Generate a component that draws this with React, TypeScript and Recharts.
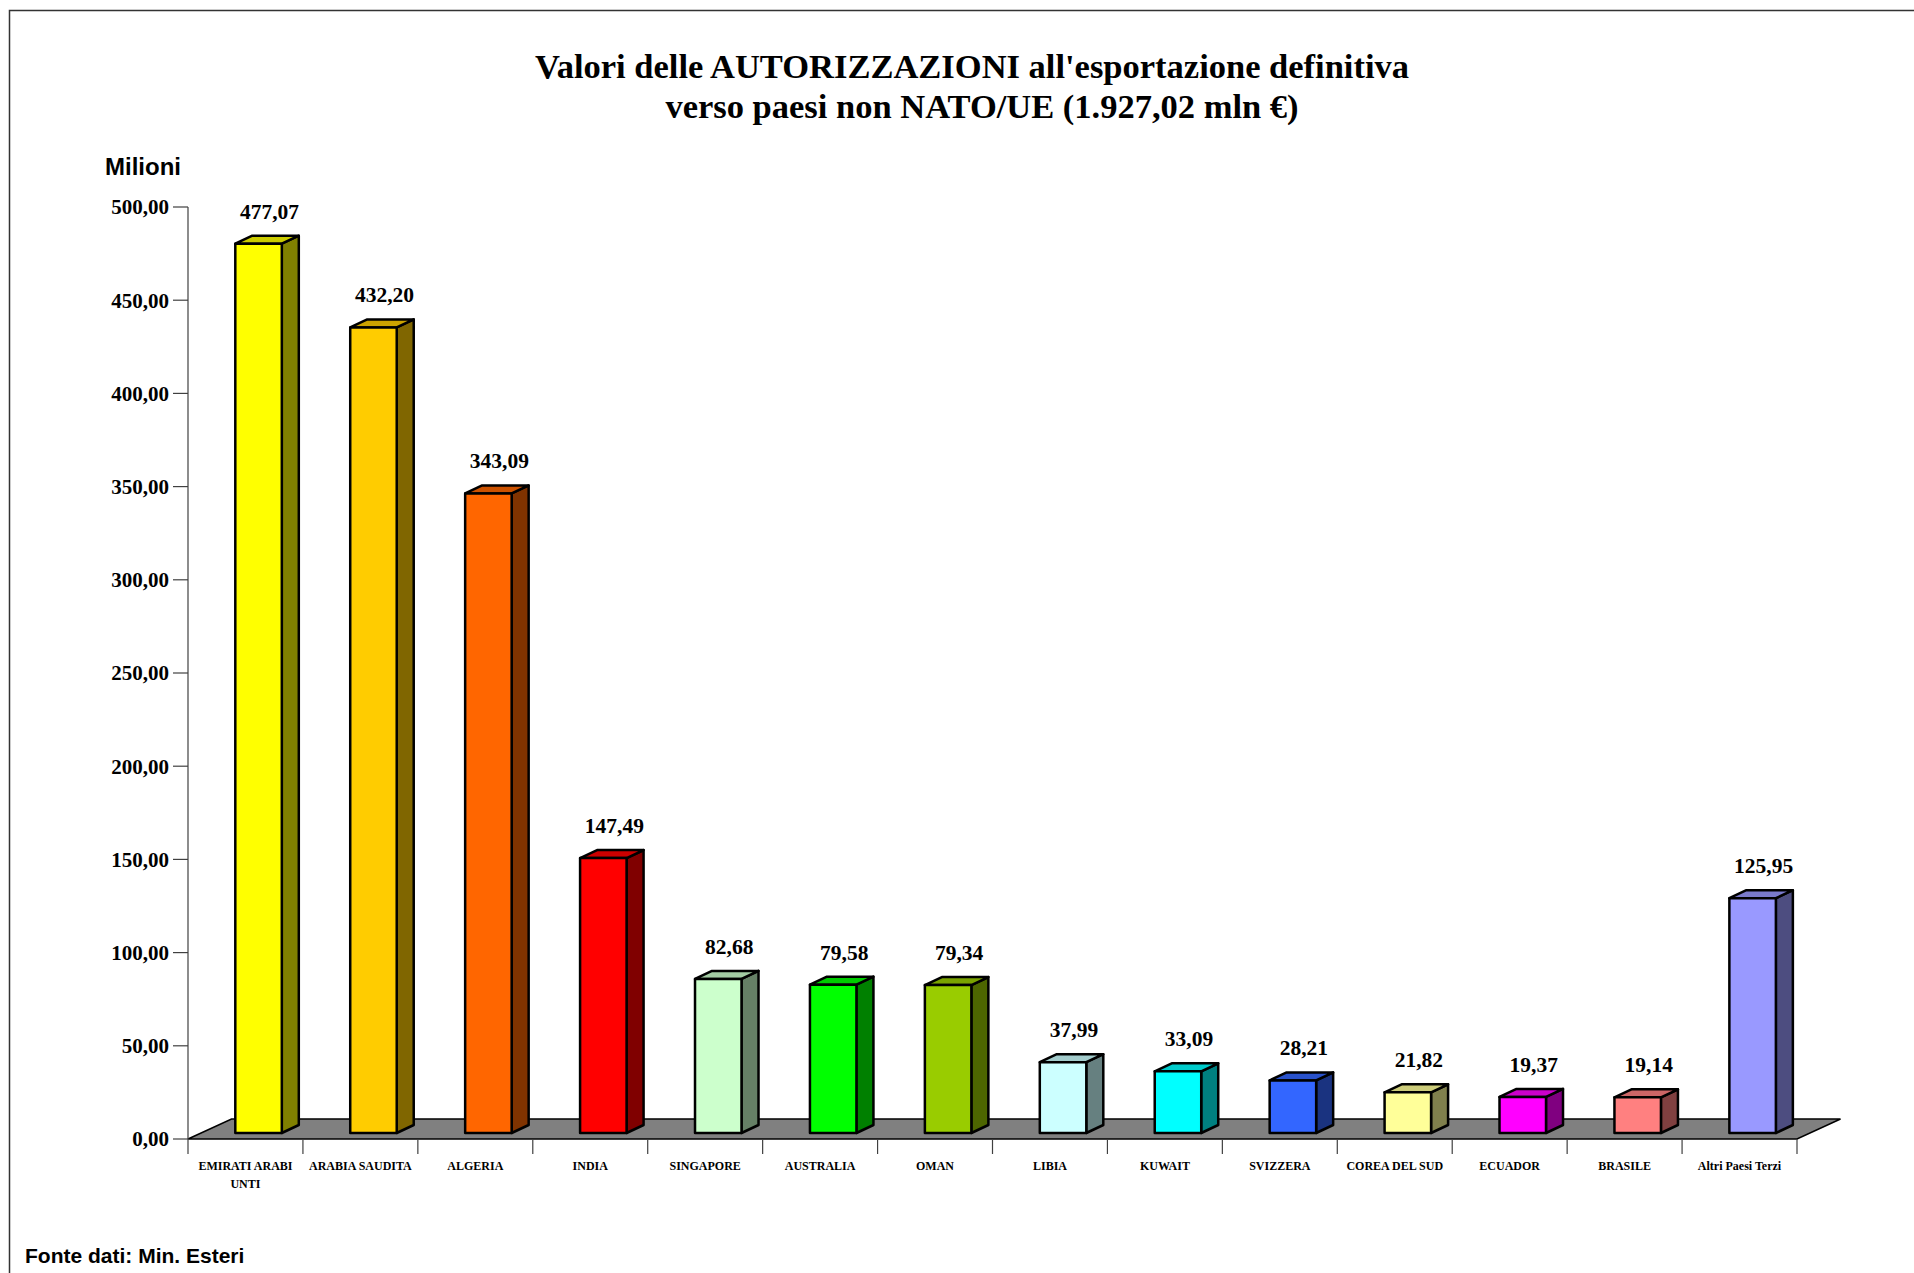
import { BarChart, Bar, XAxis, YAxis, ReferenceArea, LabelList } from 'recharts';

const categories = [
  'EMIRATI ARABI UNTI',
  'ARABIA SAUDITA',
  'ALGERIA',
  'INDIA',
  'SINGAPORE',
  'AUSTRALIA',
  'OMAN',
  'LIBIA',
  'KUWAIT',
  'SVIZZERA',
  'COREA DEL SUD',
  'ECUADOR',
  'BRASILE',
  'Altri Paesi Terzi',
];

const values = [477.07, 432.2, 343.09, 147.49, 82.68, 79.58, 79.34, 37.99, 33.09, 28.21, 21.82, 19.37, 19.14, 125.95];

const yTicks = [0, 50, 100, 150, 200, 250, 300, 350, 400, 450, 500];

const titleLines = [
  "Valori delle AUTORIZZAZIONI all'esportazione definitiva",
  'verso paesi non NATO/UE (1.927,02 mln €)',
];

// front face colours, side and top are darker versions
const palette = [
  '#FFFF00', '#FFCC00', '#FF6600', '#FF0000', '#CCFFCC', '#00FF00', '#99CC00',
  '#CCFFFF', '#00FFFF', '#3366FF', '#FFFF99', '#FF00FF', '#FF8080', '#9999FF',
];

const SERIF = '"Liberation Serif", "Times New Roman", serif';
const SANS = '"Liberation Sans", Arial, sans-serif';

const W = 1914;
const H = 1273;
const MARGIN = { top: 207, right: 117, bottom: 74, left: 0 };

// 3d geometry
const SHIFT_X = 13.3;
const SHIFT_Y = 6;
const DEPTH_X = 17;
const DEPTH_Y = 8;
const FLOOR_X = 43.5;
const FLOOR_Y = 20;

const data = categories.map((name, i) => ({ name, value: values[i] }));

const fmt = (v: number) => v.toFixed(2).replace('.', ',');

function shade(hex: string, f: number) {
  const n = parseInt(hex.slice(1), 16);
  const r = Math.round(((n >> 16) & 255) * f);
  const g = Math.round(((n >> 8) & 255) * f);
  const b = Math.round((n & 255) * f);
  return `rgb(${r},${g},${b})`;
}

let ctx: CanvasRenderingContext2D | null = null;
function measure(s: string) {
  if (!ctx) {
    ctx = document.createElement('canvas').getContext('2d');
  }
  if (!ctx) return s.length * 7;
  ctx.font = `bold 12px ${SERIF}`;
  return ctx.measureText(s).width;
}

function wrap(label: string, maxWidth: number) {
  const words = label.split(' ');
  const lines: string[] = [];
  let cur = '';
  words.forEach((w) => {
    const next = cur ? `${cur} ${w}` : w;
    if (cur && measure(next) > maxWidth) {
      lines.push(cur);
      cur = w;
    } else {
      cur = next;
    }
  });
  if (cur) lines.push(cur);
  return lines;
}

function Bar3D(props: any) {
  const { x, y, width, height, index } = props;
  const base = palette[index % palette.length];
  const fx = x + SHIFT_X;
  const top = y - SHIFT_Y;
  const bottom = y + height - SHIFT_Y;
  const r = fx + width;
  const line = { stroke: '#000', strokeWidth: 2.5, strokeLinejoin: 'round' as const };
  return (
    <g>
      <polygon
        points={`${r},${top} ${r + DEPTH_X},${top - DEPTH_Y} ${r + DEPTH_X},${bottom - DEPTH_Y} ${r},${bottom}`}
        fill={shade(base, 0.5)}
        {...line}
      />
      <polygon
        points={`${fx},${top} ${fx + DEPTH_X},${top - DEPTH_Y} ${r + DEPTH_X},${top - DEPTH_Y} ${r},${top}`}
        fill={shade(base, 0.8)}
        {...line}
      />
      <rect x={fx} y={top} width={width} height={bottom - top} fill={base} {...line} />
    </g>
  );
}

function Floor(props: any) {
  const { x, y, width, height } = props;
  const y0 = y + height;
  const n = categories.length;
  const step = width / n;
  return (
    <g>
      <polygon
        points={`${x},${y0} ${x + width},${y0} ${x + width + FLOOR_X},${y0 - FLOOR_Y} ${x + FLOOR_X},${y0 - FLOOR_Y}`}
        fill="#808080"
        stroke="#000"
        strokeWidth={1.5}
      />
      {Array.from({ length: n + 1 }, (_, i) => (
        <line key={i} x1={x + i * step} x2={x + i * step} y1={y0} y2={y0 + 15} stroke="#404040" strokeWidth={1.2} />
      ))}
    </g>
  );
}

function CategoryTick(props: any) {
  const { x, y, payload } = props;
  const lines = wrap(String(payload.value), 110);
  return (
    <text
      x={x}
      y={y + 9}
      textAnchor="middle"
      fontFamily={SERIF}
      fontWeight="bold"
      fontSize={12}
      fill="#000"
    >
      {lines.map((l, i) => (
        <tspan key={i} x={x} dy={i === 0 ? 0 : 18}>
          {l}
        </tspan>
      ))}
    </text>
  );
}

function ValueLabel(props: any) {
  const { x, y, width, value } = props;
  return (
    <text
      x={x + SHIFT_X + width / 2 + 11}
      y={y - SHIFT_Y - 25}
      textAnchor="middle"
      fontFamily={SERIF}
      fontWeight="bold"
      fontSize={21.5}
      fill="#000"
    >
      {fmt(value)}
    </text>
  );
}

export default function App() {
  return (
    <div style={{ position: 'absolute', left: 0, top: 0, width: W, height: H, background: '#fff', overflow: 'hidden' }}>
      <svg width={W} height={H} style={{ position: 'absolute', left: 0, top: 0 }}>
        <rect x={9.5} y={10.5} width={W + 20} height={H + 20} fill="none" stroke="#333" strokeWidth={1.5} />
        <text x={972} y={78} textAnchor="middle" fontFamily={SERIF} fontWeight="bold" fontSize={34.5} fill="#000">
          {titleLines[0]}
        </text>
        <text x={982} y={118} textAnchor="middle" fontFamily={SERIF} fontWeight="bold" fontSize={34.5} fill="#000">
          {titleLines[1]}
        </text>
        <text x={105} y={175} fontFamily={SANS} fontWeight="bold" fontSize={24} fill="#000">
          Milioni
        </text>
        <text x={25} y={1263} fontFamily={SANS} fontWeight="bold" fontSize={21} fill="#000">
          Fonte dati: Min. Esteri
        </text>
      </svg>
      <div style={{ position: 'absolute', left: 0, top: 0 }}>
        <BarChart width={W} height={H} data={data} margin={MARGIN}>
          <XAxis
            dataKey="name"
            type="category"
            interval={0}
            axisLine={false}
            tickLine={false}
            tickSize={15}
            tickMargin={7}
            height={60}
            tick={<CategoryTick />}
          />
          <YAxis
            type="number"
            domain={[0, 500]}
            ticks={yTicks}
            interval={0}
            width={188}
            tickSize={15}
            tickMargin={4}
            axisLine={{ stroke: '#404040', strokeWidth: 1.2 }}
            tickLine={{ stroke: '#404040', strokeWidth: 1.2 }}
            tickFormatter={fmt}
            tick={{ fill: '#000', fontSize: 21, fontWeight: 'bold', fontFamily: SERIF }}
          />
          <ReferenceArea
            x1={categories[0]}
            x2={categories[categories.length - 1]}
            y1={0}
            y2={500}
            shape={<Floor />}
          />
          <Bar dataKey="value" barSize={46.5} shape={<Bar3D />} isAnimationActive={false}>
            <LabelList dataKey="value" content={<ValueLabel />} />
          </Bar>
        </BarChart>
      </div>
    </div>
  );
}
